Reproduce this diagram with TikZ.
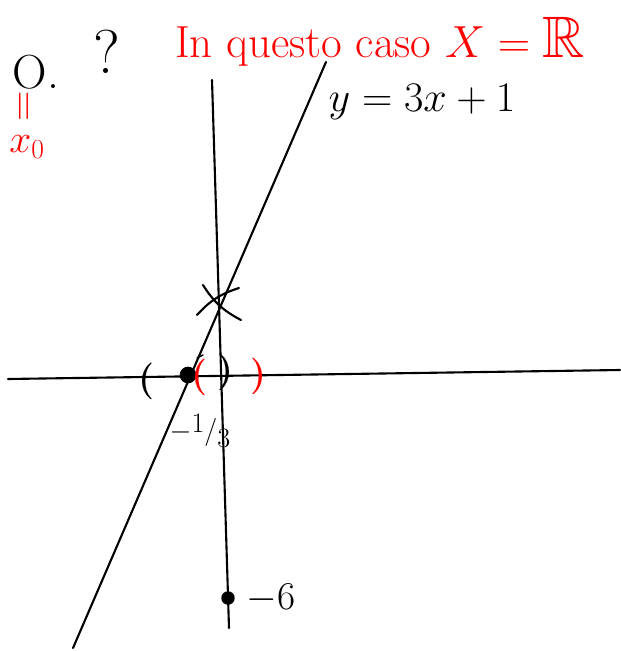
\RequirePackage{fix-cm}
\documentclass[tikz,border=0pt]{standalone}
\usepackage{amssymb}
\usetikzlibrary{positioning}

\begin{document}
\begin{tikzpicture}[
    x=0.025cm, y=-0.025cm,
    ink/.style={
        line width=1.5pt,
        line cap=round,
        draw=black
    },
    hand/.style={
        font=\fontsize{28}{32}\selectfont,
        inner sep=1pt
    },
    note/.style={
        hand,
        text=red
    },
    paren/.style={
        font=\fontsize{26}{26}\selectfont\bfseries,
        inner sep=0pt
    },
    point/.style={
        circle,
        draw=black,
        fill=black,
        line width=1pt,
        inner sep=0pt,
        minimum size=0.38cm
    }
]
    \useasboundingbox (0,0) rectangle (620,651);

    % AXES
    \coordinate (west) at (8,379);
    \coordinate (east) at (620,370);
    \coordinate (north) at (212,80);
    \coordinate (south) at (229,628);
    \draw[ink] (west) -- (east);
    \draw[ink] (north) -- (south);

    % LINE y = 3x+1
    \coordinate (linetop) at (326,62);
    \coordinate (linebot) at (73,648);
    \draw[ink] (linebot) -- (linetop);
    \node[hand, font=\fontsize{30}{34}\selectfont] (equation) at (422,102) {$y=3x+1$};

    % POINTS ON THE AXES
    \node[point] (root) at (188,375) {};
    \node[point, minimum size=0.3cm] (minussix) at (228,598) {};
    \node[hand, font=\fontsize{20}{22}\selectfont, inner sep=0pt] (rootlabel) at (200,431)
        {$-$\raisebox{5pt}{1}/\raisebox{-6pt}{3}};
    \node[hand] (sixlabel) [right=0.25cm of minussix] {$-6$};

    % CROSS AT THE INTERCEPT
    \coordinate (cross) at (218,300);
    \draw[ink] ([shift={(-15,-15)}]cross) to[bend right=15] ([shift={(23,20)}]cross);
    \draw[ink] ([shift={(-21,15)}]cross) to[bend left=15] ([shift={(21,-12)}]cross);

    % INTERVALS ROUND THE ROOT
    \node[paren] (leftblack) at (147,381) {(};
    \node[paren] (rightblack) at (226,372) {)};
    \node[paren, text=red] (leftred) at (200,377) {(};
    \node[paren, text=red] (rightred) at (259,376) {)};
    \draw[ink, line width=1pt] (197,358) -- (203,355);

    % NOTES
    \node[hand, font=\fontsize{34}{34}\selectfont] (point0) at (36,72) {O.};
    \node[hand, font=\fontsize{44}{44}\selectfont] (question) at (107,52) {?};
    \node[note, rotate=90, font=\fontsize{30}{30}\selectfont] (equals) at (27,106) {=};
    \node[note] (xzero) at (27,147) {$x_0$};
    \node[note, font=\fontsize{32}{36}\selectfont] (title) at (380,42) {In questo caso $X=\scalebox{1.3}{$\mathbb{R}$}$};

\end{tikzpicture}
\end{document}
